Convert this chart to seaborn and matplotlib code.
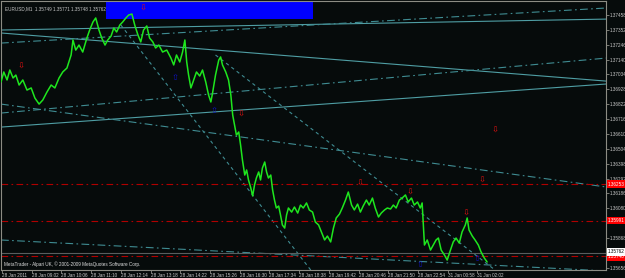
import matplotlib
matplotlib.use("Agg")
import matplotlib.pyplot as plt
import matplotlib.transforms as mtrans
import pandas as pd
import seaborn as sns

# ---------------- data ----------------
# minutes (bar index of the M1 chart) and EURUSD price
price_time = [0, 6, 13, 19, 26, 32, 39, 47, 56, 65, 73, 82, 90, 99, 108, 116, 125, 133, 142, 151,
              155, 161, 168, 176, 185, 191, 198, 204, 211, 217, 224, 230, 237, 243, 249, 256, 262, 269, 275, 282,
              288, 295, 301, 307, 314, 320, 327, 333, 340, 348, 357, 366, 372, 378, 385, 391, 396, 400, 404, 409,
              415, 421, 428, 434, 441, 447, 452, 456, 462, 469, 473, 477, 484, 490, 495, 499, 503, 507, 512, 516,
              520, 525, 529, 533, 538, 542, 546, 550, 555, 559, 563, 568, 572, 576, 581, 585, 589, 593, 598, 602,
              606, 611, 615, 619, 626, 632, 639, 645, 651, 658, 664, 671, 677, 684, 690, 697, 703, 710, 716, 722,
              729, 735, 742, 748, 755, 761, 768, 774, 780, 787, 793, 800, 806, 813, 819, 826, 832, 839, 845, 851,
              858, 864, 871, 877, 884, 890, 897, 903, 907, 912, 918, 925, 931, 937, 942, 948, 955, 961, 968, 974,
              980, 987, 993, 1000, 1004, 1008, 1015, 1021, 1028, 1034, 1041, 1047]
price_value = [1.36980, 1.37052, 1.36995, 1.37066, 1.37009, 1.37030, 1.36959, 1.36995, 1.36923, 1.36938,
               1.36866, 1.36823, 1.36852, 1.36909, 1.36959, 1.36938, 1.37009, 1.37052, 1.37080, 1.37173,
               1.37280, 1.37208, 1.37244, 1.37194, 1.37294, 1.37351, 1.37408, 1.37437, 1.37351, 1.37294,
               1.37244, 1.37280, 1.37308, 1.37365, 1.37337, 1.37387, 1.37408, 1.37437, 1.37458, 1.37465,
               1.37387, 1.37315, 1.37266, 1.37351, 1.37380, 1.37294, 1.37266, 1.37223, 1.37244, 1.37194,
               1.37208, 1.37151, 1.37102, 1.37173, 1.37123, 1.37194, 1.37280, 1.37123, 1.37030, 1.36938,
               1.36995, 1.37052, 1.37023, 1.37066, 1.36980, 1.36888, 1.36838, 1.36909, 1.37030, 1.37137,
               1.37159, 1.37102, 1.37052, 1.36995, 1.36888, 1.36745, 1.36674, 1.36602, 1.36624, 1.36531,
               1.36424, 1.36317, 1.36353, 1.36282, 1.36225, 1.36168, 1.36246, 1.36296, 1.36339, 1.36282,
               1.36367, 1.36410, 1.36339, 1.36296, 1.36317, 1.36210, 1.36139, 1.36082, 1.36096, 1.36032,
               1.35961, 1.35939, 1.36032, 1.36082, 1.36053, 1.36089, 1.36046, 1.36103, 1.36082, 1.36118,
               1.36068, 1.36053, 1.35982, 1.35961, 1.35911, 1.35854, 1.35882, 1.35840, 1.35939, 1.36011,
               1.36039, 1.36082, 1.36139, 1.36196, 1.36103, 1.36068, 1.36110, 1.36053, 1.36096, 1.36139,
               1.36103, 1.36153, 1.36082, 1.36018, 1.36046, 1.36068, 1.36082, 1.36075, 1.36103, 1.36082,
               1.36139, 1.36153, 1.36175, 1.36125, 1.36153, 1.36103, 1.36125, 1.36082, 1.36118, 1.35818,
               1.35854, 1.35782, 1.35818, 1.35854, 1.35868, 1.35782, 1.35747, 1.35711, 1.35782, 1.35840,
               1.35868, 1.35832, 1.35911, 1.35961, 1.36011, 1.35925, 1.35882, 1.35854, 1.35818, 1.35768,
               1.35725, 1.35697]

x_tick_labels = ["28 Jan 2011", "28 Jan 09:02", "28 Jan 10:06", "28 Jan 11:10", "28 Jan 12:14",
                 "28 Jan 13:18", "28 Jan 14:22", "28 Jan 15:26", "28 Jan 16:30", "28 Jan 17:34",
                 "28 Jan 18:38", "28 Jan 19:42", "28 Jan 20:46", "28 Jan 21:50", "28 Jan 22:54",
                 "31 Jan 00:58", "31 Jan 02:02"]
y_tick_values = [1.37458, 1.37352, 1.37246, 1.37140, 1.37034, 1.36928, 1.36822, 1.36716, 1.36610,
                 1.36504, 1.36398, 1.36292, 1.36186, 1.36080, 1.35974, 1.35868, 1.35762, 1.35656]

# trend lines: start time, start price, end time, end price
solid_t0 = [0, 0, 0]
solid_p0 = [1.37351, 1.37330, 1.36659]
solid_t1 = [1303, 1303, 1303]
solid_p1 = [1.37429, 1.36987, 1.36966]

dashdot_t0 = [0, 0, 0, 0]
dashdot_p0 = [1.37258, 1.36759, 1.36823, 1.35854]
dashdot_t1 = [1303, 1303, 1303, 1303]
dashdot_p1 = [1.37508, 1.37151, 1.36232, 1.35633]

dashed_t0 = [258, 462]
dashed_p0 = [1.37387, 1.37173]
dashed_t1 = [667, 1064]
dashed_p1 = [1.35640, 1.35640]

# horizontal levels
red_levels = [1.36253, 1.35991, 1.35740]
bid_price = 1.35762

# arrows
sell_time = [43, 305, 516, 774, 882, 1036, 1002, 1064]
sell_price = [1.37094, 1.37508, 1.36752, 1.36260, 1.36196, 1.36282, 1.36046, 1.36638]
buy_time = [374, 458, 903, 1026]
buy_price = [1.37009, 1.36774, 1.35676, 1.35725]

# blue rectangle object
rect_t = [226, 673]
rect_p = [1.37429, 1.37600]

title_text = "EURUSD,M1  1.35749 1.35771 1.35748 1.35762"
footer_text = "MetaTrader - Alpari UK, \u00a9 2001-2009 MetaQuotes Software Corp."

# ---------------- drawing ----------------
sns.set_theme(style="dark")
BG = "#060b0b"
FG = "#c8c8c8"
FS = 3.3
plt.rcParams["font.family"] = ["Liberation Sans", "DejaVu Sans"]

fig = plt.figure(figsize=(6.25, 2.78), dpi=100, facecolor=BG)
ax = fig.add_axes([0.0016, 0.0288, 0.968, 0.9676])
ax.set_facecolor(BG)
ax.set_xlim(0, 1303)
ax.set_ylim(1.35640, 1.37558)
ax.grid(False)

# rectangle
ax.fill_between(rect_t, rect_p[0], rect_p[1], color="#0000ff", lw=0, zorder=1)

teal = "#3f8c92"
for t0, p0, t1, p1 in zip(solid_t0, solid_p0, solid_t1, solid_p1):
    ax.plot([t0, t1], [p0, p1], color="#4f9ea4", lw=0.8, zorder=2)
for t0, p0, t1, p1 in zip(dashdot_t0, dashdot_p0, dashdot_t1, dashdot_p1):
    ax.plot([t0, t1], [p0, p1], color=teal, lw=0.8, ls=(0, (7, 3, 1.5, 3)), zorder=2)
for t0, p0, t1, p1 in zip(dashed_t0, dashed_p0, dashed_t1, dashed_p1):
    ax.plot([t0, t1], [p0, p1], color=teal, lw=0.8, ls=(0, (3, 3)), zorder=2)

for lv in red_levels:
    ax.axhline(lv, color="#b00000", lw=0.8, ls=(0, (6, 3, 1.5, 3)), zorder=2)
ax.axhline(bid_price, color="#5a5e5e", lw=0.8, zorder=2)

df = pd.DataFrame({"t": price_time, "p": price_value})
sns.lineplot(data=df, x="t", y="p", color="#1ee61e", lw=1.1, ax=ax, estimator=None, sort=False, zorder=4)

for t, p in zip(sell_time, sell_price):
    ax.text(t, p, "\u21e9", color="#e01010", fontsize=6, ha="center", va="center",
            family="DejaVu Sans", zorder=5)
for t, p in zip(buy_time, buy_price):
    ax.text(t, p, "\u21e7", color="#1010c0", fontsize=6, ha="center", va="center",
            family="DejaVu Sans", zorder=5)

# axes cosmetics
for s in ["left", "top", "right", "bottom"]:
    ax.spines[s].set_color("#8c8c84")
    ax.spines[s].set_linewidth(0.8)
ax.set_xlabel("")
ax.set_ylabel("")
ax.set_xticks([2 + 64 * k for k in range(len(x_tick_labels))])
ax.set_xticklabels(x_tick_labels, ha="left", fontsize=FS, color=FG)
ax.yaxis.tick_right()
ax.set_yticks(y_tick_values)
# price boxes (bid and red levels) cover the tick labels right under them
covered = [bid_price] + red_levels
ax.set_yticklabels(["" if min(abs(v - c) for c in covered) < 0.0002 else f"{v:.5f}" for v in y_tick_values],
                   fontsize=FS, color=FG)
ax.tick_params(axis="x", length=2, width=0.6, color="#8c8c84", pad=0.5, direction="out", bottom=True)
ax.tick_params(axis="y", length=2, width=0.6, color="#8c8c84", pad=0.6, direction="out", right=True, left=False)

yt = mtrans.blended_transform_factory(ax.transAxes, ax.transData)
mid = (bid_price + red_levels[-1]) / 2
for lv in red_levels:
    near_bid = abs(lv - bid_price) < 0.0005
    ax.text(1.003, mid if near_bid else lv, f"{lv:.5f}", transform=yt, fontsize=FS, color="white",
            va="top" if near_bid else "center", ha="left",
            bbox=dict(boxstyle="square,pad=0.25", fc="#ff0000", ec="none"), zorder=6, clip_on=False)
ax.text(1.003, mid, f"{bid_price:.5f}", transform=yt, fontsize=FS, color="black", va="bottom",
        ha="left", bbox=dict(boxstyle="square,pad=0.25", fc="white", ec="none"), zorder=7, clip_on=False)

ax.text(0.006, 0.982, title_text, transform=ax.transAxes, fontsize=FS, color=FG, va="top", ha="left", zorder=6)
ax.text(0.005, 0.012, footer_text, transform=ax.transAxes, fontsize=FS, color="#e0e0e0", va="bottom",
        ha="left", zorder=6)

fig.savefig("out.png", dpi=100, facecolor=BG)
